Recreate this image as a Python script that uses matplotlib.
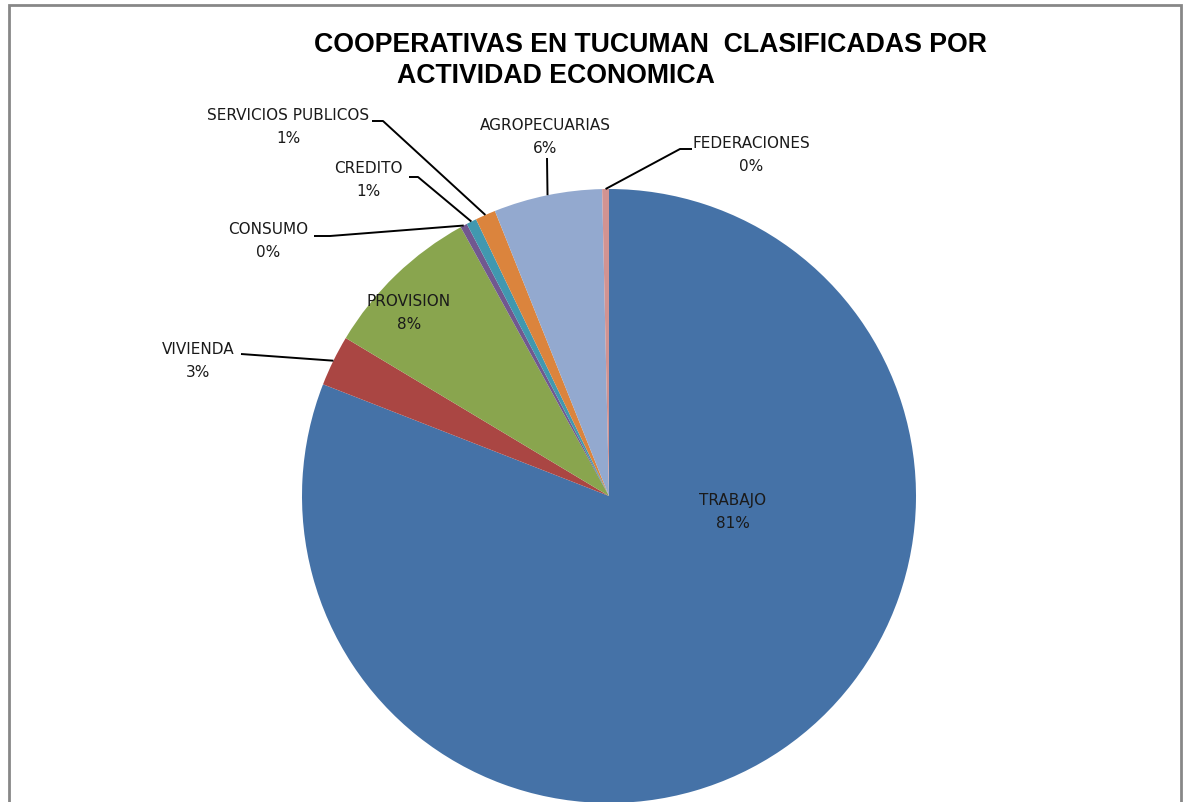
import matplotlib
matplotlib.use("Agg")
import matplotlib.pyplot as plt
from matplotlib.patches import Rectangle
import numpy as np

categories = ["TRABAJO", "VIVIENDA", "PROVISION", "CONSUMO", "CREDITO",
              "SERVICIOS PUBLICOS", "AGROPECUARIAS", "FEDERACIONES"]
counts = [454, 15, 47, 2, 3, 6, 32, 2]
colors = ["#4572A7", "#AA4643", "#89A54E", "#71588F", "#4198AF",
          "#DB843D", "#93A9CF", "#D19392"]
title_line1 = "COOPERATIVAS EN TUCUMAN  CLASIFICADAS POR"
title_line2 = "ACTIVIDAD ECONOMICA"

W, H = 1189, 802
fig = plt.figure(figsize=(W / 100, H / 100), dpi=100)
ax = fig.add_axes([0, 0, 1, 1])


def px(x, y):
    return (x, H - y)


cx, cy = px(609, 496)
R = 307
wedges, _ = ax.pie(counts, colors=colors, startangle=90, counterclock=False,
                   center=(cx, cy), radius=R,
                   wedgeprops=dict(linewidth=0))
ax.set_xlim(0, W)
ax.set_ylim(0, H)
ax.set_aspect("equal")
ax.axis("off")

total = sum(counts)
pcts = [100 * c / total for c in counts]

lab_font = dict(family="DejaVu Sans", fontsize=11, color="#1a1a1a")


def edge_point(i):
    w = wedges[i]
    a = np.deg2rad((w.theta1 + w.theta2) / 2)
    return cx + R * np.cos(a), cy + R * np.sin(a)


# label centre (px), leader path points (px) before wedge edge, or None
label_specs = {
    "TRABAJO": ((733, 512), None),
    "PROVISION": ((409, 313), None),
    "VIVIENDA": ((198, 361), [(241, 354)]),
    "CONSUMO": ((268, 241), [(314, 236), (330, 236)]),
    "CREDITO": ((368, 180), [(409, 177), (418, 177)]),
    "SERVICIOS PUBLICOS": ((288, 127), [(372, 121), (383, 121)]),
    "AGROPECUARIAS": ((545, 137), [(547, 158)]),
    "FEDERACIONES": ((751, 155), [(692, 149), (680, 149)]),
}

for i, name in enumerate(categories):
    (lx, ly), path = label_specs[name]
    ax.text(*px(lx, ly), f"{name}\n{pcts[i]:.0f}%", ha="center", va="center",
            linespacing=1.65, **lab_font)
    if path:
        pts = [px(*p) for p in path] + [edge_point(i)]
        xs, ys = zip(*pts)
        ax.plot(xs, ys, color="black", lw=1.4, solid_capstyle="butt")

ax.text(*px(650, 45), title_line1, ha="center", va="center",
        fontsize=19.2, fontweight="bold", family="Liberation Sans")
ax.text(*px(397, 76), title_line2, ha="left", va="center",
        fontsize=19.2, fontweight="bold", family="Liberation Sans")

# chart area border
ax.add_patch(Rectangle(px(9, 830), 1181 - 9, 830 - 5, fill=False,
                       edgecolor="#878787", lw=2, clip_on=False))

fig.savefig("out.png", dpi=100)
